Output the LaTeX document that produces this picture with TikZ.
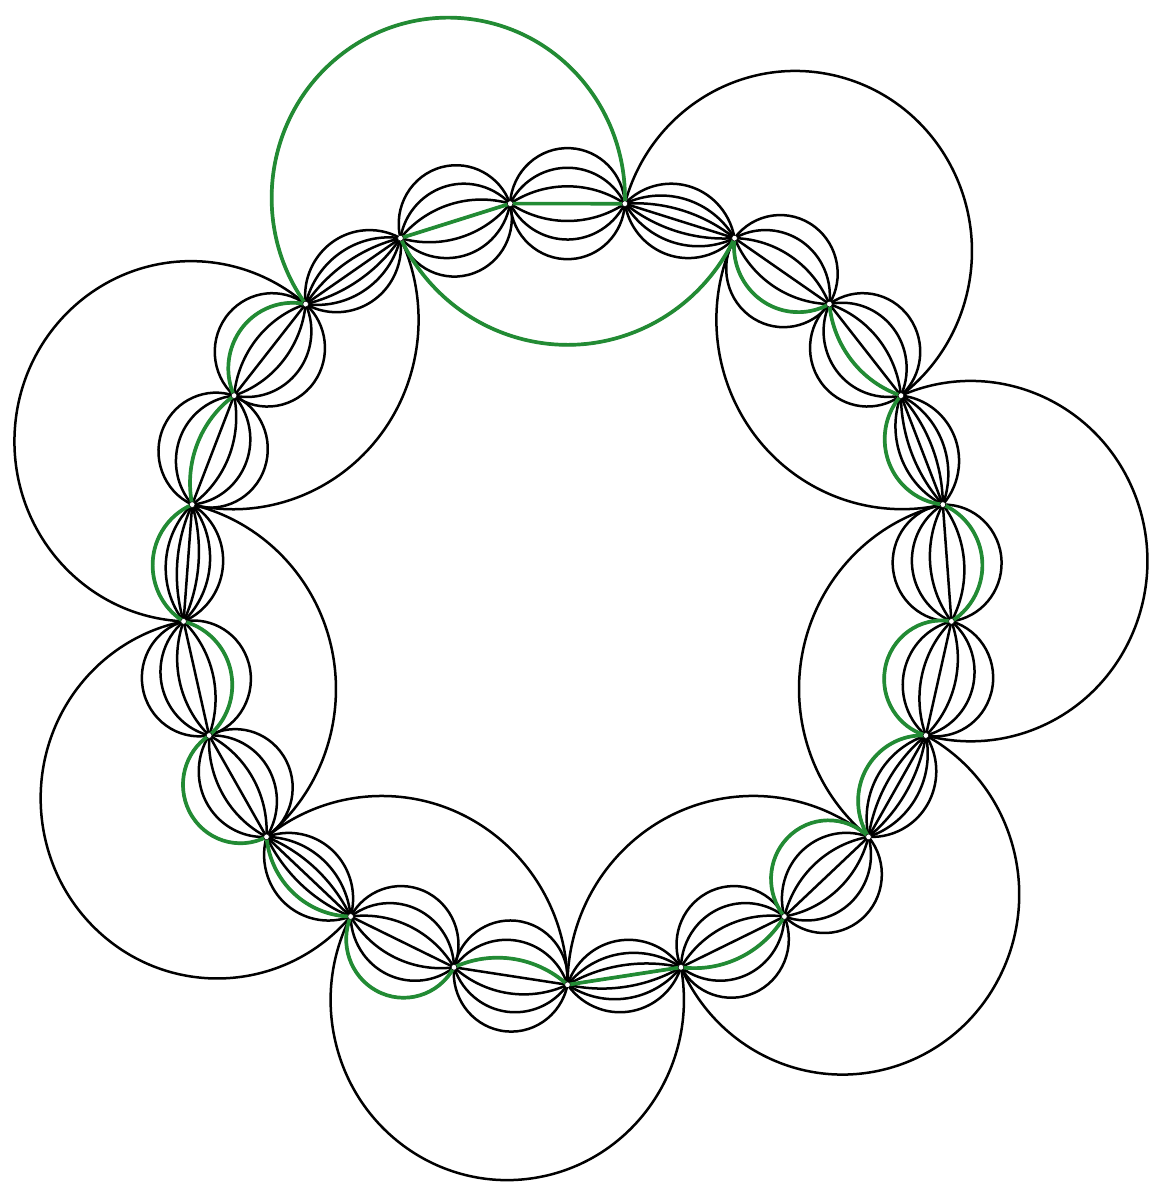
\documentclass[tikz,border=0pt]{standalone}
\definecolor{gcol}{RGB}{34,139,52}
\tikzset{lensline/.style={line width=2.5pt, draw=black, line cap=round},
         greenline/.style={line width=3.7pt, draw=gcol, line cap=round},
         ptdot/.style={fill=white, draw=black, line width=0.5pt}}
% #1 style, #2 start index, #3 number of steps, #4 tangent angle to chord (+ = outward)
\newcommand\myarc[4]{%
  \pgfmathsetmacro\myb{-8.5714-17.1429*(#2)-8.5714*(#3)}%
  \pgfmathsetmacro\myD{770*sin(8.5714*(#3))}%
  \pgfmathtruncatemacro\myend{mod(#2+#3,21)}%
  \ifdim #4pt=0pt\relax
    \draw[#1] (P#2) -- (P\myend);%
  \else
    \pgfmathsetmacro\myr{abs(\myD/(2*sin(#4)))}%
    \pgfmathsetmacro\mys{\myb+(#4)+ifthenelse((#4)>0,90,-90)}%
    \draw[#1] (P#2) arc[start angle=\mys, delta angle={-2*(#4)}, radius=\myr];%
  \fi}
\begin{document}
\begin{tikzpicture}[x=1pt,y=1pt]
\useasboundingbox (0,0) rectangle (1149,-1190);
\begin{scope}[shift={(567.5,-592)}, yscale=1.02]
  \foreach \j in {0,...,20} {\coordinate (P\j) at ({81.4286-17.1429*\j}:385);}
  % big arcs
  \foreach \k in {0,3,...,18} {\myarc{lensline}{\k}{3}{109}}
  \foreach \k in {1,4,...,19} {\myarc{lensline}{\k}{3}{-64.1}}
  % lenses
  \foreach \j in {0,3,...,18} {\foreach \a in {-63,-42,-21,0,21,42,63} {\myarc{lensline}{\j}{1}{\a}}}
  \foreach \j in {1,2,4,5,7,8,10,11,13,14,16,17,19,20} {\foreach \a in {-87,-63,-33,0,33,63,87} {\myarc{lensline}{\j}{1}{\a}}}
  % green loop
  \myarc{greenline}{18}{3}{109}
  \myarc{greenline}{19}{3}{-64.1}
  \foreach \j/\a in {1/-63,2/-33,3/-63,4/63,5/-87,6/-63,7/-87,8/33,9/0,10/-33,11/87,12/42,13/87,14/-63,15/63,16/33,17/63,19/0,20/0} {\myarc{greenline}{\j}{1}{\a}}
  % points
  \foreach \j in {0,...,20} {\path[ptdot] (P\j) circle (2.8);}
\end{scope}
\end{tikzpicture}
\end{document}
